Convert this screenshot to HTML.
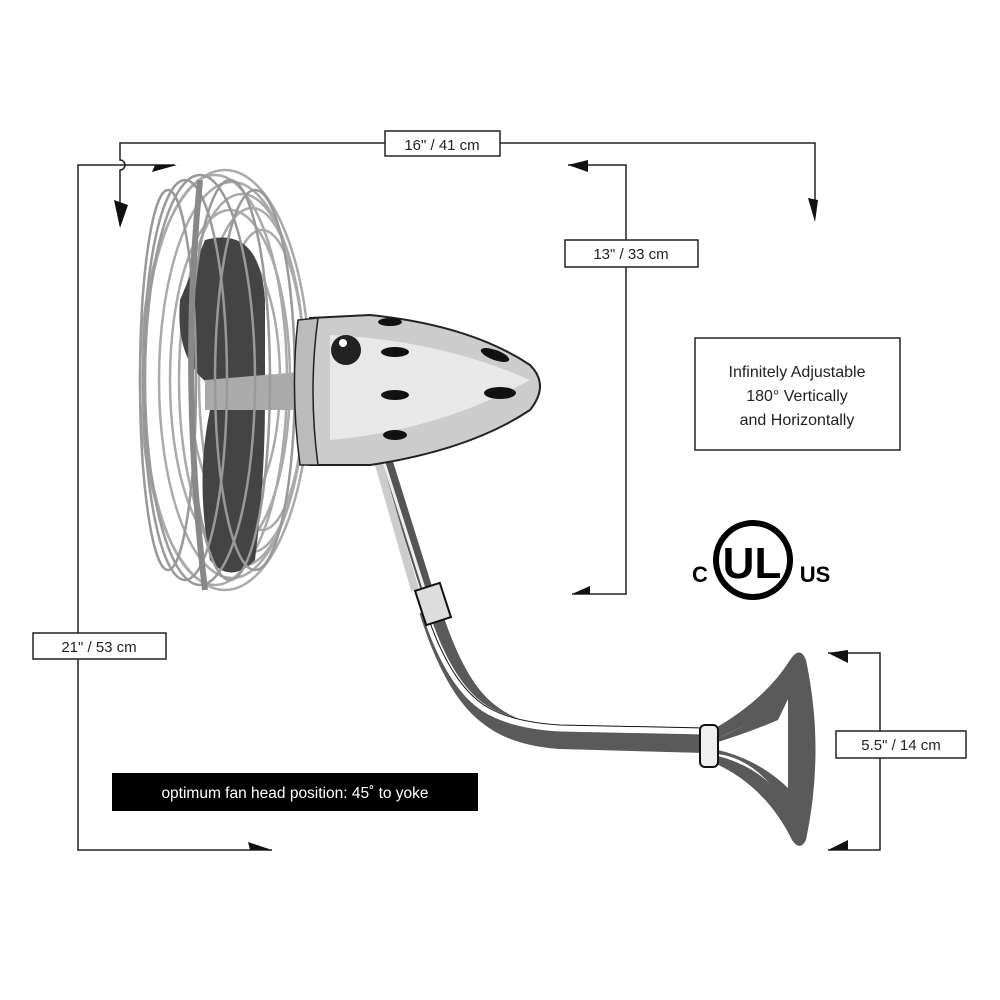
<!DOCTYPE html>
<html><head><style>
body{margin:0;background:#fff}
svg{display:block}
text{font-family:"Liberation Sans",sans-serif;fill:#222}
</style></head><body>
<svg width="1000" height="1000" viewBox="0 0 1000 1000">
<rect width="1000" height="1000" fill="#fff"/>
<g stroke="#222" stroke-width="1.5" fill="none">
<path d="M120 225 V170 a5 5 0 0 0 0 -10 V143 H815 V215"/>
<path d="M175 165 H78 V850 H272"/>
<path d="M568 165 H626 V594 H572"/>
<path d="M828 653 H880 V850 H828"/>
</g>
<g fill="#111">
<polygon points="120,228 114,200 128,205"/>
<polygon points="815,222 808,198 818,200"/>
<polygon points="177,165 152,172 155,165"/>
<polygon points="272,850 248,842 250,850"/>
<polygon points="568,165 588,160 588,172"/>
<polygon points="572,594 590,586 590,594"/>
<polygon points="828,653 848,650 848,663"/>
<polygon points="828,850 848,840 848,850"/>
</g>
<g fill="#fff" stroke="#222" stroke-width="1.5">
<rect x="385" y="131" width="115" height="25"/>
<rect x="33" y="633" width="133" height="26"/>
<rect x="565" y="240" width="133" height="27"/>
<rect x="836" y="731" width="130" height="27"/>
<rect x="695" y="338" width="205" height="112"/>
</g>
<text x="442" y="150" font-size="15" text-anchor="middle">16" / 41 cm</text>
<text x="99" y="652" font-size="15" text-anchor="middle">21" / 53 cm</text>
<text x="631" y="259" font-size="15" text-anchor="middle">13" / 33 cm</text>
<text x="901" y="750" font-size="15" text-anchor="middle">5.5" / 14 cm</text>
<text x="797" y="377" font-size="16" text-anchor="middle">Infinitely Adjustable</text>
<text x="797" y="401" font-size="16" text-anchor="middle">180° Vertically</text>
<text x="797" y="425" font-size="16" text-anchor="middle">and Horizontally</text>
<rect x="112" y="773" width="366" height="38" fill="#000"/>
<text x="295" y="798" font-size="15.5" text-anchor="middle" style="fill:#fff">optimum fan head position: 45˚ to yoke</text>
<!-- UL -->
<circle cx="753" cy="560" r="37" fill="none" stroke="#000" stroke-width="6"/>
<text x="752" y="578" font-size="44" font-weight="bold" text-anchor="middle" style="fill:#000" transform="translate(0,0)">UL</text>
<text x="700" y="582" font-size="22" font-weight="bold" text-anchor="middle" style="fill:#000">C</text>
<text x="815" y="582" font-size="22" font-weight="bold" text-anchor="middle" style="fill:#000">US</text>
<!-- yoke / arm -->
<path d="M430 610 Q455 690 490 715 Q515 735 560 738 L705 742" fill="none" stroke="#5a5a5a" stroke-width="22" stroke-linejoin="round"/>
<path d="M424 608 Q448 684 484 708 Q510 725 560 728 L705 731" fill="none" stroke="#fff" stroke-width="7"/>
<path d="M424 608 Q448 684 484 708 Q510 725 560 728 L705 731" fill="none" stroke="#111" stroke-width="1" transform="translate(0,-3)"/>
<path d="M355 360 L430 600" fill="none" stroke="#555" stroke-width="12"/>
<path d="M352 362 L427 598" fill="none" stroke="#eee" stroke-width="3"/>
<path d="M372 440 L415 590" stroke="#ccc" stroke-width="8"/>
<rect x="420" y="586" width="26" height="36" fill="#ddd" stroke="#111" stroke-width="2" transform="rotate(-18 433 604)"/>
<!-- wall mount -->
<path d="M712 730 Q765 700 790 660 Q800 645 806 660 Q825 750 806 840 Q800 852 792 840 Q765 785 712 762 Z" fill="#5a5a5a"/>
<path d="M718 738 Q770 715 790 695 Q790 750 788 810 Q770 770 718 756 Z" fill="#fff"/>
<path d="M718 738 Q760 720 790 695 L778 720 Q750 732 718 742Z" fill="#5a5a5a"/>
<path d="M718 754 Q760 760 788 810 L790 790 Q760 760 718 750Z" fill="#5a5a5a"/>
<path d="M791 690 L791 815" stroke="#5a5a5a" stroke-width="6"/>
<rect x="700" y="725" width="18" height="42" rx="5" fill="#eee" stroke="#111" stroke-width="2"/>
<!-- fan cage -->
<g fill="none" stroke="#aaa" stroke-width="2.5">
<ellipse cx="225" cy="380" rx="85" ry="210"/>
<ellipse cx="232" cy="380" rx="73" ry="198"/>
<ellipse cx="242" cy="380" rx="63" ry="186"/>
<ellipse cx="252" cy="380" rx="53" ry="172"/>
<ellipse cx="262" cy="380" rx="43" ry="150"/>
<ellipse cx="215" cy="380" rx="72" ry="205"/>
<ellipse cx="230" cy="380" rx="60" ry="170"/>
<ellipse cx="235" cy="380" rx="45" ry="130"/>
</g>
<path d="M205 240 Q260 225 265 300 L265 380 L210 385 Q175 360 180 300 Z" fill="#444"/>
<path d="M210 410 L265 400 Q265 480 255 560 Q230 585 210 560 Q195 480 210 410Z" fill="#444"/>
<path d="M205 380 L300 372 L300 410 L205 410Z" fill="#aaa"/>
<g fill="none" stroke="#999" stroke-width="2.5">
<ellipse cx="200" cy="380" rx="55" ry="205"/>
<ellipse cx="185" cy="380" rx="42" ry="200"/>
<ellipse cx="168" cy="380" rx="28" ry="190"/>
<ellipse cx="230" cy="380" rx="40" ry="200"/>
<ellipse cx="255" cy="380" rx="40" ry="190"/>
</g>
<path d="M200 180 Q180 380 205 590" stroke="#888" stroke-width="6" fill="none"/>
<!-- motor -->
<path d="M310 318 L370 315 Q470 325 530 365 Q550 385 530 410 Q470 450 370 465 L310 465 Q300 390 310 318Z" fill="#ccc" stroke="#222" stroke-width="2"/>
<path d="M330 335 Q440 340 530 380 Q440 430 330 440Z" fill="#e8e8e8"/>
<g fill="#111">
<ellipse cx="395" cy="352" rx="14" ry="5"/>
<ellipse cx="395" cy="395" rx="14" ry="5"/>
<ellipse cx="395" cy="435" rx="12" ry="5"/>
<ellipse cx="495" cy="355" rx="15" ry="5" transform="rotate(20 495 355)"/>
<ellipse cx="500" cy="393" rx="16" ry="6"/>
<ellipse cx="390" cy="322" rx="12" ry="4"/>
</g>
<path d="M298 320 Q290 390 300 465 L318 465 Q308 390 318 318Z" fill="#bbb" stroke="#222" stroke-width="1.5"/>
<circle cx="346" cy="350" r="15" fill="#222"/>
<circle cx="343" cy="343" r="4" fill="#fff"/>
</svg>
</body></html>
